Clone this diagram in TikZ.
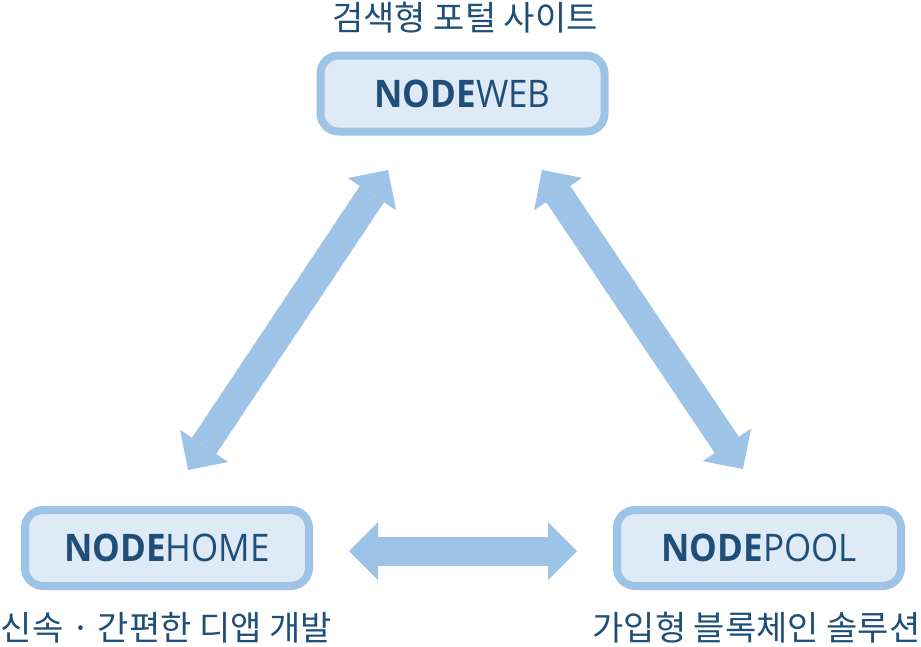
\documentclass[tikz,border=0pt]{standalone}
\usepackage{fontspec}
\setmainfont{Open Sans}
\newfontfamily\kr{Noto Sans CJK KR}
\newfontfamily\lat{Open Sans}[FakeStretch=0.92]
\usetikzlibrary{arrows.meta}
\definecolor{boxline}{HTML}{9DC3E6}
\definecolor{boxfill}{HTML}{DEEBF7}
\definecolor{txt}{HTML}{1F4E79}
\begin{document}
\begin{tikzpicture}[x=1pt,y=-1pt,
  nodebox/.style={draw=boxline, fill=boxfill, line width=8pt, rounded corners=18pt,
    minimum width=284pt, minimum height=76pt, inner sep=0pt, text=txt,
    font=\lat\fontsize{38}{40}\selectfont},
  caption/.style={text=txt, font=\kr\fontsize{34}{36}\selectfont, inner sep=0pt},
  tipshape/.tip={Triangle[length=29pt,width=58pt,line width=0pt]},
  link/.style={draw=boxline, line width=29pt, tipshape-tipshape}]
\useasboundingbox (0,0) rectangle (921,646);
\node[nodebox] (web) at (462.5,93.5) {\textbf{NODE}WEB};
\node[nodebox] (home) at (167,548) {\textbf{NODE}HOME};
\node[nodebox] (pool) at (759,548) {\textbf{NODE}POOL};
\node[caption] (tweb) at (465,18) {검색형 포털 사이트};
\node[caption] (thome) at (166.5,628) {신속 · 간편한 디앱 개발};
\node[caption] (tpool) at (756.5,628) {가입형 블록체인 솔루션};
\coordinate (hw1) at (188,470);
\coordinate (hw2) at (388,170);
\coordinate (pw1) at (743,469);
\coordinate (pw2) at (542,170);
\coordinate (hp1) at (349,551);
\coordinate (hp2) at (577,551);
\draw[link] (hw1) -- (hw2);
\draw[link] (pw1) -- (pw2);
\draw[link] (hp1) -- (hp2);
\end{tikzpicture}
\end{document}
